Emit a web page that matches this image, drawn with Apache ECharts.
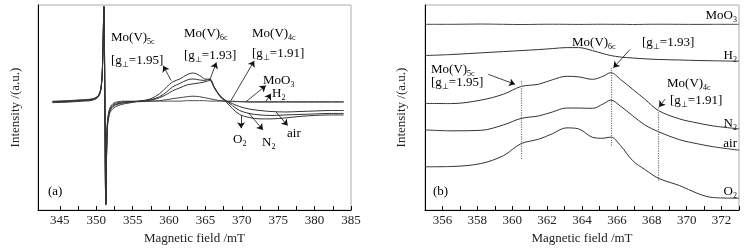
<!DOCTYPE html>
<html>
<head>
<meta charset="utf-8">
<script src="https://cdn.jsdelivr.net/npm/echarts@6/dist/echarts.min.js"></script>
<style>
  html, body { margin: 0; padding: 0; background: #fff; }
  #chart { width: 753px; height: 250px; }
</style>
</head>
<body>
<div id="chart"></div>
<script>
// panel (a): full EPR spectra, intensity in arbitrary units (0 = baseline)
var fieldA = [344, 346, 348, 349.5, 350.3, 350.7, 350.9, 351.05, 351.18, 351.32, 351.5, 351.8, 352.3, 353, 354,
  356, 357.5, 358.7, 359.7, 360.5, 361.5, 362.5, 363.3, 364.2, 364.9, 365.6, 366.2, 367, 367.8, 368.7, 369.7,
  371, 372.5, 374, 376, 378, 380, 382, 384];
var o2A = [-1, -0.5, 0.5, 1.5, 5, 15, 45, 97, 10, -105, -32, -13, -7, -4, -2,
  0.5, 3, 8, 15, 20, 23, 27.5, 29, 26.5, 23, 22.5, 15, 5, 0, -7, -13, -16, -17.5, -17.5, -16.5, -15, -14, -13.5, -13.5];
var n2A = [-0.5, 0, 1, 2, 5.5, 16, 46, 96, 8, -104, -30, -11, -5, -2.5, -1,
  0.5, 2, 5, 10, 15, 18.5, 22, 23, 22, 21.5, 23, 15, 6, 1, -4, -9, -12, -13.5, -14, -13.5, -13, -12.5, -12, -12];
var airA = [0, 0.5, 1, 2.5, 6, 17, 47, 96, 9, -103, -28, -10, -4, -2, -0.5,
  0.5, 1.5, 4, 7.5, 11, 14, 17, 18, 19, 20, 21.5, 14, 6, 1, -2, -5, -7.5, -9, -10, -10.5, -10, -9.5, -9, -9];
var h2A = [0, 0.5, 1.5, 2.5, 6, 16, 45, 95, 8, -102, -26, -9, -3, -1, 0,
  0, 0.5, 1, 2, 3, 4, 5, 5.5, 5, 4, 3, 2, 1, 0.5, 0, 0, -0.5, -0.5, -0.5, -0.5, -0.5, -0.5, -0.5, -0.5];
var moo3A = [0.5, 1, 2, 3, 6.5, 17, 46, 97, 9, -104, -27, -8, -2, 0, 0.5,
  0.5, 0.5, 0.5, 0.5, 0.5, 0.5, 1, 1, 1, 1, 0.5, 0.5, 0.5, 0.5, 0.5, 0, 0, 0, 0, 0, 0, 0, 0, 0];

// panel (b): zoomed, stacked spectra
var fieldB = [355, 356.5, 358.2, 359.5, 360.5, 361.5, 362.3, 363.1, 363.8, 364.6, 365.2, 365.65, 366.2,
  366.9, 367.6, 368.4, 369.6, 370.6, 371.5, 373];
var moo3B = [187.5, 187.5, 187.8, 187.5, 187.3, 187.5, 187.6, 187.5, 187.4, 187.5, 187.6, 187.5, 187.5,
  187.3, 187.5, 187.6, 187.5, 187.4, 187.5, 187.5];
var h2B = [156, 157, 158.7, 160, 161, 162, 163, 164, 164, 161, 158, 156, 154.5, 153.5, 152.7, 152, 151.5, 151, 150.7, 150.3];
var n2B = [107.7, 107.5, 111, 117, 124.7, 127, 131.5, 135, 134.5, 132, 135, 138.7, 132, 122, 112, 100.3, 92, 88, 85, 82];
var airB = [81, 80, 80.5, 86, 92.5, 95, 99, 103, 103, 102.7, 107, 111, 105, 95.3, 86, 79, 71, 67, 64, 60.5];
var o2B = [43.7, 44, 47, 55, 67, 71.5, 77, 83, 82, 73.5, 72.5, 73.7, 65.3, 50, 41, 32, 24.7, 17, 12.7, 12];

var ticksA = [345, 347.5, 350, 352.5, 355, 357.5, 360, 362.5, 365, 367.5, 370, 372.5, 375, 377.5, 380, 382.5, 385];
var labelsA = [345, 350, 355, 360, 365, 370, 375, 380, 385];

// annotation arrows [x1, y1, x2, y2] in data units
var arrowsA = [[360.3, 21.3, 359.2, 36.3], [365.6, 22, 366.5, 39.7], [368.5, 1, 371.7, 41.3],
  [370.6, 0, 373.3, 16.3], [373.3, 0, 374.0, 8], [369.9, -14, 369.9, -27],
  [371.0, -12, 372.9, -28.7], [374.7, -10.5, 376.3, -24.3]];
var arrowsB = [[358.63, 137, 360.16, 127], [366.75, 162, 365.8, 143.7], [368.76, 112, 368.42, 104]];
// dotted guides [x, yTop, yBottom]
var guidesB = [[360.5, 130.3, 50.3], [365.65, 143.7, 63.7], [368.37, 103.7, 30]];

var FONT = 'Liberation Serif';
var INK = '#222';

function pairs(xs, ys) {
  return xs.map(function (x, i) { return [x, ys[i]]; });
}
function arrowLines(list) {
  return list.map(function (a) { return [{ coord: [a[0], a[1]] }, { coord: [a[2], a[3]] }]; });
}
function guideLines(list) {
  return list.map(function (d) { return [{ coord: [d[0], d[1]] }, { coord: [d[0], d[2]] }]; });
}

function curve(name, idx, xs, ys, color) {
  return {
    name: name, type: 'line', xAxisIndex: idx, yAxisIndex: idx,
    data: pairs(xs, ys), showSymbol: false, smooth: 0.35, silent: true,
    lineStyle: { color: color || '#333', width: 1 }
  };
}

var rich = {
  m: { fontFamily: FONT, fontSize: 13, color: INK, lineHeight: 15 },
  s: { fontFamily: FONT, fontSize: 8, color: INK, verticalAlign: 'bottom' }
};
function label(text, x, y, align) {
  return {
    type: 'text', x: x, y: y, silent: true,
    style: { text: text, rich: rich, align: align || 'left', verticalAlign: 'middle' }
  };
}

var xAxisBase = {
  type: 'value',
  axisLine: { onZero: false, lineStyle: { color: '#000', width: 1 } },
  axisTick: { inside: true, length: 4, lineStyle: { color: '#000' } },
  axisLabel: { fontFamily: FONT, fontSize: 13, color: INK, margin: 4 },
  splitLine: { show: false },
  name: 'Magnetic field /mT', nameLocation: 'middle', nameGap: 18,
  nameTextStyle: { fontFamily: FONT, fontSize: 13, color: INK }
};
var yAxisBase = {
  type: 'value',
  axisLine: { show: true, onZero: false, lineStyle: { color: '#000', width: 1 } },
  axisTick: { show: false }, axisLabel: { show: false }, splitLine: { show: false },
  name: 'Intensity /(a.u.)', nameLocation: 'middle', nameGap: 16, nameRotate: 90,
  nameTextStyle: { fontFamily: FONT, fontSize: 13, color: INK }
};

var chart = echarts.init(document.getElementById('chart'));

var moo3ASeries = curve('MoO3', 0, fieldA, moo3A, '#555');
moo3ASeries.markLine = {
  silent: true, symbol: ['none', 'arrow'], symbolSize: 6, label: { show: false },
  lineStyle: { color: '#111', width: 0.8, type: 'solid' }, data: arrowLines(arrowsA)
};
var moo3BSeries = curve('MoO3', 1, fieldB, moo3B, '#444');
moo3BSeries.markLine = {
  silent: true, symbol: ['none', 'arrow'], symbolSize: 6, label: { show: false },
  lineStyle: { color: '#111', width: 0.8, type: 'solid' }, data: arrowLines(arrowsB)
};
var o2BSeries = curve('O2', 1, fieldB, o2B);
o2BSeries.markLine = {
  silent: true, symbol: ['none', 'none'], label: { show: false },
  lineStyle: { color: '#777', width: 1.2, type: 'dotted' }, data: guideLines(guidesB)
};

chart.setOption({
  animation: false,
  backgroundColor: '#fff',
  grid: [
    { left: 38, top: 5, width: 313, height: 208, show: true, borderColor: '#aaa', borderWidth: 1 },
    { left: 425, top: 5, width: 314, height: 207, show: true, borderColor: '#aaa', borderWidth: 1 }
  ],
  xAxis: [
    Object.assign({}, xAxisBase, {
      gridIndex: 0, min: 342, max: 385,
      axisTick: Object.assign({}, xAxisBase.axisTick, { customValues: ticksA }),
      axisLabel: Object.assign({}, xAxisBase.axisLabel, { customValues: labelsA })
    }),
    Object.assign({}, xAxisBase, {
      gridIndex: 1, min: 355, max: 373, interval: 1,
      axisLabel: Object.assign({}, xAxisBase.axisLabel, {
        formatter: function (v) { return v % 2 === 0 ? String(v) : ''; }
      })
    })
  ],
  yAxis: [
    Object.assign({}, yAxisBase, { gridIndex: 0, min: -110, max: 98 }),
    Object.assign({}, yAxisBase, { gridIndex: 1, min: 0, max: 207, nameGap: 17 })
  ],
  series: [
    moo3ASeries,
    curve('H2', 0, fieldA, h2A, '#444'),
    curve('air', 0, fieldA, airA),
    curve('N2', 0, fieldA, n2A),
    curve('O2', 0, fieldA, o2A),
    moo3BSeries,
    curve('H2', 1, fieldB, h2B),
    curve('N2', 1, fieldB, n2B),
    curve('air', 1, fieldB, airB),
    o2BSeries
  ],
  graphic: [
    label('{m|Mo(V)}{s|5c}', 111, 38),
    label('{m|[g}{s|⊥}{m|=1.95]}', 111, 61),
    label('{m|Mo(V)}{s|6c}', 184, 34),
    label('{m|[g}{s|⊥}{m|=1.93]}', 184, 56),
    label('{m|Mo(V)}{s|4c}', 252, 34),
    label('{m|[g}{s|⊥}{m|=1.91]}', 252, 54),
    label('{m|MoO}{s|3}', 263, 81),
    label('{m|H}{s|2}', 272, 94),
    label('{m|O}{s|2}', 233, 140),
    label('{m|N}{s|2}', 262, 143),
    label('{m|air}', 287, 134),
    label('{m|(a)}', 48, 192),
    label('{m|Mo(V)}{s|5c}', 431, 70),
    label('{m|[g}{s|⊥}{m|=1.95]}', 431, 83),
    label('{m|Mo(V)}{s|6c}', 572, 43),
    label('{m|[g}{s|⊥}{m|=1.93]}', 642, 43),
    label('{m|Mo(V)}{s|4c}', 667, 84),
    label('{m|[g}{s|⊥}{m|=1.91]}', 670, 101),
    label('{m|MoO}{s|3}', 737, 16, 'right'),
    label('{m|H}{s|2}', 737, 56, 'right'),
    label('{m|N}{s|2}', 737, 124, 'right'),
    label('{m|air}', 737, 144, 'right'),
    label('{m|O}{s|2}', 737, 192, 'right'),
    label('{m|(b)}', 433, 192)
  ]
});
</script>
</body>
</html>
